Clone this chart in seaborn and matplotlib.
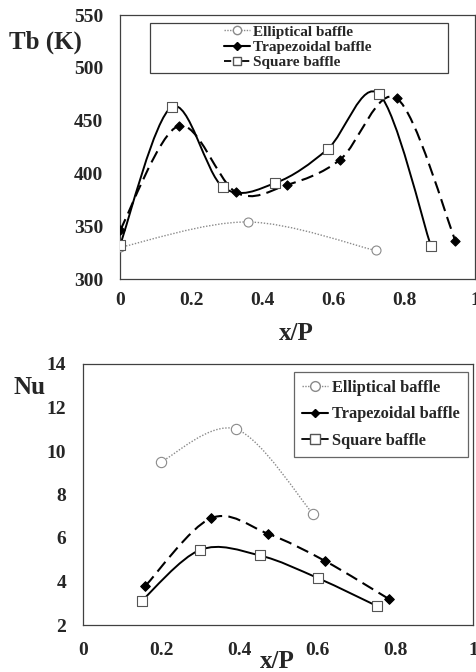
import numpy as np
import pandas as pd
import matplotlib
matplotlib.use('Agg')
import matplotlib.pyplot as plt
import seaborn as sns
from matplotlib.path import Path
from matplotlib.patches import PathPatch, Rectangle
from matplotlib.lines import Line2D

# ---- data ----
tb_ell_x = [0.0, 0.36, 0.72]
tb_ell_y = [330, 354, 327]
tb_trap_x = [0.0, 0.165, 0.327, 0.47, 0.62, 0.78, 0.945]
tb_trap_y = [346, 445, 382, 389, 413, 471, 336]
tb_sq_x = [0.0, 0.146, 0.29, 0.438, 0.585, 0.73, 0.876]
tb_sq_y = [332, 463, 387, 391, 423, 475, 331]

nu_ell_x = [0.2, 0.393, 0.59]
nu_ell_y = [9.5, 11.0, 7.1]
nu_trap_x = [0.16, 0.327, 0.474, 0.62, 0.784]
nu_trap_y = [3.8, 6.9, 6.2, 4.95, 3.2]
nu_sq_x = [0.15, 0.30, 0.453, 0.603, 0.754]
nu_sq_y = [3.1, 5.45, 5.2, 4.15, 2.87]

labels = ['Elliptical baffle', 'Trapezoidal baffle', 'Square baffle']

sns.set_style('white')
plt.rcParams['font.family'] = ['Liberation Serif', 'DejaVu Serif']
plt.rcParams['font.weight'] = 'bold'

W, H = 476, 672
fig = plt.figure(figsize=(W / 100, H / 100), dpi=100)


def px_axes(l, t, r, b):
    return fig.add_axes([l / W, 1 - b / H, (r - l) / W, (b - t) / H])


def smooth_curve(ax, xs, ys, **kw):
    # Excel-style smoothed line (Catmull-Rom as cubic Bezier) through the data points
    p = np.column_stack([xs, ys]).astype(float)
    n = len(p)
    verts = [p[0]]
    codes = [Path.MOVETO]
    for i in range(n - 1):
        p0 = p[i - 1] if i > 0 else p[i]
        p1, p2 = p[i], p[i + 1]
        p3 = p[i + 2] if i + 2 < n else p[i + 1]
        c1 = p1 + (p2 - p0) / 6
        c2 = p2 - (p3 - p1) / 6
        verts += [c1, c2, p2]
        codes += [Path.CURVE4] * 3
    ax.add_patch(PathPatch(Path(verts, codes), fill=False, transform=ax.transData, **kw))


def markers(ax, xs, ys, marker, face, size, edge='black', lw=0.8):
    df = pd.DataFrame({'x': xs, 'y': ys})
    sns.scatterplot(data=df, x='x', y='y', marker=marker, s=size, color=face,
                    edgecolor=edge, linewidth=lw, ax=ax, zorder=5, legend=False)


def style_axes(ax, xpad, ypad):
    for sp in ax.spines.values():
        sp.set_visible(True)
        sp.set_color('#404040')
        sp.set_linewidth(0.9)
    ax.tick_params(length=0, labelsize=14)
    ax.tick_params(axis='x', pad=xpad)
    ax.tick_params(axis='y', pad=ypad)
    ax.set_xlabel('')
    ax.set_ylabel('')
    ax.set_xticks([0, 0.2, 0.4, 0.6, 0.8, 1])
    ax.set_xticklabels(['0', '0.2', '0.4', '0.6', '0.8', '1'])
    for t in ax.get_xticklabels() + ax.get_yticklabels():
        t.set_fontweight('bold')


gray = '#8a8a8a'

# ---- top: bulk temperature ----
ax1 = px_axes(120, 15, 475, 279)
smooth_curve(ax1, tb_ell_x, tb_ell_y, edgecolor=gray, lw=1.0, ls=(0, (1, 1.2)))
smooth_curve(ax1, tb_trap_x, tb_trap_y, edgecolor='black', lw=1.5, ls=(0, (6, 3)))
smooth_curve(ax1, tb_sq_x, tb_sq_y, edgecolor='black', lw=1.4, ls='-')
markers(ax1, tb_ell_x, tb_ell_y, 'o', 'white', 42, edge=gray)
markers(ax1, tb_trap_x, tb_trap_y, 'D', 'black', 22)
markers(ax1, tb_sq_x, tb_sq_y, 's', 'white', 42, edge='#555555')
ax1.set_xlim(0, 1)
ax1.set_ylim(300, 550)
ax1.set_yticks([300, 350, 400, 450, 500, 550])
style_axes(ax1, 9.5, 12)

# legend: frame drawn separately so entries sit inside a wide box
ax1.add_patch(Rectangle(((150 - 120) / 355, 1 - (73 - 15) / 264), (448 - 150) / 355, 50 / 264,
                        transform=ax1.transAxes, fill=False, edgecolor='#404040', lw=0.9, zorder=6))
h_top = [
    Line2D([], [], color=gray, ls=(0, (1, 1)), lw=1, marker='o', mfc='white', mec=gray, ms=6),
    Line2D([], [], color='black', ls='-', lw=1.5, marker='D', mfc='black', mec='black', ms=4),
    Line2D([], [], color='black', ls=(0, (4, 1)), lw=1.3, marker='s', mfc='white', mec='#555555', ms=6),
]
leg1 = ax1.legend(h_top, labels, loc='upper left', bbox_to_anchor=((222 - 120) / 355, 1 - (23.5 - 15) / 264),
                  frameon=False, prop={'family': 'Liberation Serif', 'weight': 'bold', 'size': 11},
                  handlelength=1.75, handletextpad=0.2, labelspacing=0.1, borderpad=0.1, borderaxespad=0)
leg1.set_zorder(7)

fig.text(45 / W, 1 - 42 / H, 'Tb (K)', ha='center', va='center', fontsize=18, fontweight='bold')
fig.text(296 / W, 1 - 333 / H, 'x/P', ha='center', va='center', fontsize=18, fontweight='bold')

# ---- bottom: Nusselt number ----
ax2 = px_axes(83, 364, 473, 625)
smooth_curve(ax2, nu_ell_x, nu_ell_y, edgecolor=gray, lw=1.0, ls=(0, (1, 1.2)))
smooth_curve(ax2, nu_trap_x, nu_trap_y, edgecolor='black', lw=1.5, ls=(0, (6, 3)))
smooth_curve(ax2, nu_sq_x, nu_sq_y, edgecolor='black', lw=1.4, ls='-')
markers(ax2, nu_ell_x, nu_ell_y, 'o', 'white', 55, edge=gray)
markers(ax2, nu_trap_x, nu_trap_y, 'D', 'black', 24)
markers(ax2, nu_sq_x, nu_sq_y, 's', 'white', 55, edge='#555555')
ax2.set_xlim(0, 1)
ax2.set_ylim(2, 14)
ax2.set_yticks([2, 4, 6, 8, 10, 12, 14])
style_axes(ax2, 12.5, 12)

h_bot = [
    Line2D([], [], color=gray, ls=(0, (1, 1)), lw=1, marker='o', mfc='white', mec=gray, ms=7),
    Line2D([], [], color='black', ls='-', lw=1.5, marker='D', mfc='black', mec='black', ms=4.5),
    Line2D([], [], color='black', ls='-', lw=1.3, marker='s', mfc='white', mec='#555555', ms=7),
]
leg2 = ax2.legend(h_bot, labels, loc='upper right', bbox_to_anchor=((468 - 83) / 390, 1 - (372 - 364) / 261),
                  frameon=True, fancybox=False, edgecolor='#404040',
                  prop={'family': 'Liberation Serif', 'weight': 'bold', 'size': 11.8},
                  handlelength=1.6, handletextpad=0.25, labelspacing=0.62, borderpad=0.5, borderaxespad=0)
leg2.get_frame().set_linewidth(0.9)

fig.text(29 / W, 1 - 388 / H, 'Nu', ha='center', va='center', fontsize=18, fontweight='bold')
fig.text(277 / W, 1 - 662 / H, 'x/P', ha='center', va='center', fontsize=18, fontweight='bold')

fig.savefig('out.png', dpi=100, facecolor='white')
